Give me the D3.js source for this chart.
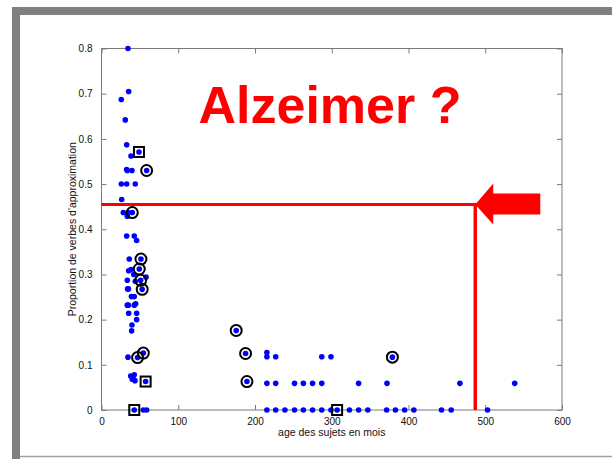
<!DOCTYPE html>
<html><head><meta charset="utf-8">
<script src="https://cdn.jsdelivr.net/npm/d3@7"></script>
<style>
html,body{margin:0;padding:0;background:#fff;}
svg{display:block;font-family:"Liberation Sans",Arial,sans-serif;}
</style></head>
<body>
<svg id="chart" width="612" height="459"></svg>
<script>
// ---- data (age in months, proportion) ----
const dotAges = [34.5,35.4,25.8,31,32.8,38.4,32.8,33.6,39.7,25.8,32.8,44,26.3,28.4,34.5,33.6,
  32.8,42.7,45.8,36.2,35.4,38.4,42,58,33.6,44,34,35,39,42.7,33.6,35,42.7,44.5,35.4,45.8,45.8,39.7,39.3,34.5,
  38,40,42.7,43.6,41,54.5,58.8,
  58.8,40.1,51.4,49.2,51,53,47,54.5,48.8,57.5,42.7,
  175.5,187.7,189.5,379,
  215.5,215.5,227,287,299,
  215.5,227,251.5,263,275,287,335,372,467,538.4,
  215.5,227,239,251.5,263,275,287,299,307,323,335,347,371.5,383,395,407,443,455.6,503];
const dotProps = [0.80,0.705,0.687,0.642,0.587,0.562,0.532,0.530,0.530,0.5,0.5,0.5,0.466,0.437,0.437,0.429,
  0.385,0.385,0.375,0.334,0.308,0.311,0.30,0.294,0.287,0.285,0.268,0.268,0.251,0.251,0.232,0.232,0.232,0.235,0.214,0.214,0.200,0.188,0.175,0.117,
  0.075,0.068,0.078,0.065,0.070,0,0,
  0.530,0.437,0.334,0.312,0.287,0.267,0.116,0.126,0.571,0.063,0,
  0.176,0.125,0.063,0.117,
  0.127,0.118,0.118,0.118,0.118,
  0.059,0.059,0.059,0.059,0.059,0.059,0.059,0.059,0.059,0.059,
  0,0,0,0,0,0,0,0,0,0,0,0,0,0,0,0,0,0,0];
const circleAges = [58.8,40.1,51.4,49.2,51,53,47,54.5,175.5,187.7,189.5,379];
const circleProps = [0.530,0.437,0.334,0.312,0.287,0.267,0.116,0.126,0.176,0.125,0.063,0.117];
const squareAges = [48.8,57.5,42.7,307];
const squareProps = [0.571,0.063,0,0];
const xTicks = [0,100,200,300,400,500,600];
const yTicks = [0,0.1,0.2,0.3,0.4,0.5,0.6,0.7,0.8];
const markAge = 487, markProp = 0.455;
const title = "Alzeimer ?";
const xLabel = "age des sujets en mois";
const yLabel = "Proportion de verbes d'approximation";

const svg = d3.select("#chart");
// slide frame
svg.append("rect").attr("x",12).attr("y",7).attr("width",600).attr("height",8).attr("fill","#808080");
svg.append("rect").attr("x",12).attr("y",7).attr("width",8).attr("height",452).attr("fill","#808080");
svg.append("line").attr("x1",20).attr("x2",612).attr("y1",456.5).attr("y2",456.5).attr("stroke","#a0a0a0").attr("stroke-width",1.5);

const L=101.5, R=562, T=48.5, B=410;
const x = d3.scaleLinear().domain([0,600]).range([L,R]);
const y = d3.scaleLinear().domain([0,0.8]).range([B,T]);
const axCol = "#7a7a7a";
const tk = 5;

const g = svg.append("g");
// box
g.append("rect").attr("x",L).attr("y",T).attr("width",R-L).attr("height",B-T)
  .attr("fill","none").attr("stroke",axCol).attr("stroke-width",1);

const xb = g.append("g").attr("transform",`translate(0,${B})`)
  .call(d3.axisBottom(x).tickValues(xTicks).tickSize(-tk).tickPadding(tk+3).tickFormat(d3.format("d")));
const xt = g.append("g").attr("transform",`translate(0,${T})`)
  .call(d3.axisTop(x).tickValues(xTicks).tickSize(-tk).tickFormat(""));
const yl = g.append("g").attr("transform",`translate(${L},0)`)
  .call(d3.axisLeft(y).tickValues(yTicks).tickSize(-tk).tickPadding(tk+4).tickFormat(d=>d===0?"0":d3.format(".1f")(d)));
const yr = g.append("g").attr("transform",`translate(${R},0)`)
  .call(d3.axisRight(y).tickValues(yTicks).tickSize(-tk).tickFormat(""));
[xb,xt,yl,yr].forEach(a=>{
  a.select(".domain").remove();
  a.selectAll(".tick line").attr("stroke",axCol);
  a.selectAll(".tick text").attr("font-size",10).attr("fill","#111").attr("font-family","Liberation Sans, Arial, sans-serif");
});

// axis labels
svg.append("text").attr("x",(L+R)/2).attr("y",436).attr("text-anchor","middle")
  .attr("font-size",10.5).attr("fill","#111").text(xLabel);
svg.append("text").attr("transform",`translate(76,${(T+B)/2}) rotate(-90)`).attr("text-anchor","middle")
  .attr("font-size",10.5).attr("fill","#111").text(yLabel);

// red reference lines
svg.append("line").attr("x1",x(0)).attr("x2",x(markAge)+1.5).attr("y1",y(markProp)).attr("y2",y(markProp))
  .attr("stroke","#ff0000").attr("stroke-width",3);
svg.append("line").attr("x1",x(markAge)).attr("x2",x(markAge)).attr("y1",y(markProp)).attr("y2",y(0))
  .attr("stroke","#ff0000").attr("stroke-width",3.5);

// dots
const pts = dotAges.map((a,i)=>[a,dotProps[i]]);
svg.append("g").selectAll("circle").data(pts).join("circle")
  .attr("cx",d=>x(d[0])).attr("cy",d=>y(d[1])).attr("r",2.8).attr("fill","#0000ff");
// circle markers
svg.append("g").selectAll("circle").data(circleAges.map((a,i)=>[a,circleProps[i]])).join("circle")
  .attr("cx",d=>x(d[0])).attr("cy",d=>y(d[1])).attr("r",5.5).attr("fill","none")
  .attr("stroke","#000").attr("stroke-width",2);
// square markers
svg.append("g").selectAll("rect").data(squareAges.map((a,i)=>[a,squareProps[i]])).join("rect")
  .attr("x",d=>x(d[0])-5).attr("y",d=>y(d[1])-5).attr("width",10).attr("height",10).attr("fill","none")
  .attr("stroke","#000").attr("stroke-width",2);

// arrow pointing at the reference point
const tipX = x(markAge), tipY = y(markProp);
const arrow = [[tipX,tipY],[tipX+18,tipY-21],[tipX+18,tipY-11],[tipX+65,tipY-11],[tipX+65,tipY+10],[tipX+18,tipY+10],[tipX+18,tipY+20]];
svg.append("polygon").attr("points",arrow.map(p=>p.join(",")).join(" ")).attr("fill","#ff0000");

// title
svg.append("text").attr("x",330).attr("y",123).attr("text-anchor","middle")
  .attr("font-size",52).attr("font-weight","bold").attr("fill","#ff0000").text(title);
</script>
</body></html>
